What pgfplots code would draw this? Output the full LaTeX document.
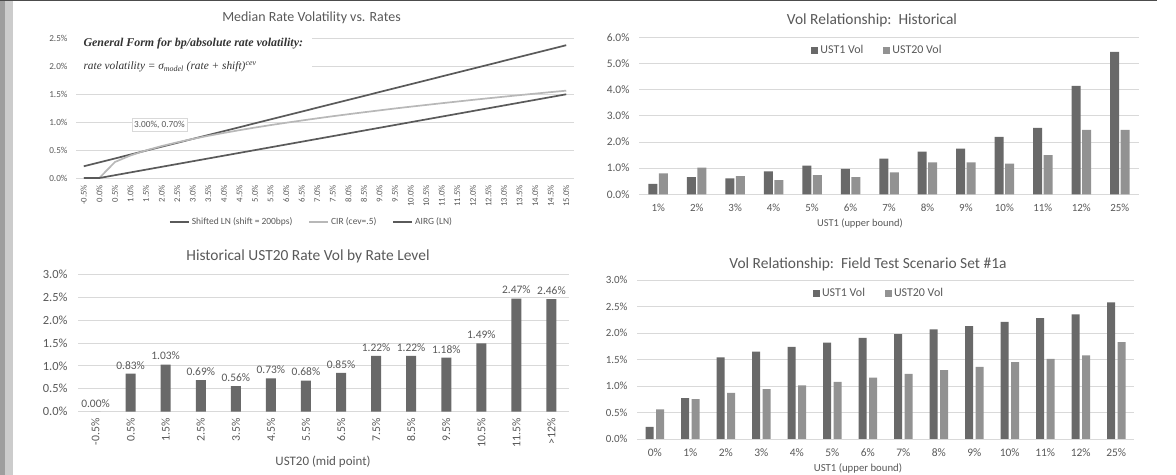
\documentclass[border=0pt]{standalone}
\usepackage{pgfplots}
\pgfplotsset{compat=1.18}
\usepackage{fontspec}
\setmainfont{Carlito}
\newfontfamily\serifit{Liberation Serif}
\definecolor{txt}{HTML}{595959}
\definecolor{gridc}{HTML}{D9D9D9}
\definecolor{darkbar}{HTML}{696969}
\definecolor{lightbar}{HTML}{929292}
\definecolor{darkline}{HTML}{5A5A5A}
\definecolor{lightline}{HTML}{B8B8B8}
\newcommand{\fs}[1]{\fontsize{#1}{#1}\selectfont}
\pgfplotsset{
  base/.style={
    scale only axis, anchor=south west,
    axis line style={draw=none},
    major tick length=0pt,
    ymajorgrids, grid style={gridc, line width=0.8bp},
    /pgf/number format/assume math mode=true,
    ticklabel style={text=txt},
    clip=false,
    legend cell align=left,
  },
  pcty/.style={yticklabel={\pgfmathprintnumber[fixed,fixed zerofill,precision=1]{\tick}\%}},
}
\begin{document}
\begin{tikzpicture}
\useasboundingbox (0,0) rectangle (1176bp,475bp);
\fill[white] (0,0) rectangle (1176bp,475bp);
\fill[black!38] (0,0) rectangle (5bp,475bp);
\fill[black!20] (5bp,0) rectangle (13bp,475bp);
\fill[black!70] (0,474bp) rectangle (1157bp,475bp);

% ---------- top left
\begin{axis}[base, pcty, at={(76bp,297bp)}, width=498bp, height=139.5bp,
  xmin=-0.75, xmax=15.25, ymin=0, ymax=2.5, ytick={0,0.5,...,2.5},
  xtick={-0.5,0,...,15},
  xticklabel={\pgfmathprintnumber[fixed,fixed zerofill,precision=1]{\tick}\%},
  x tick label style={rotate=90, anchor=east, font=\fs{8.7}, xshift=-3.5bp},
  y tick label style={font=\fs{9.2}, xshift=-5bp},
  legend columns=3,
  legend style={at={(0.473,-0.315)}, anchor=center, draw=none, fill=none, font=\fs{9.5}, text=txt,
    /tikz/every even column/.append style={column sep=14bp}},
  legend image code/.code={\draw[#1] (0bp,0bp) -- (19bp,0bp);},
]
\addplot[darkline, line width=1.7bp] coordinates {
(-0.5,0.21) (0,0.28) (0.5,0.35) (1,0.42) (1.5,0.49) (2,0.56) (2.5,0.63) (3,0.70) (3.5,0.77) (4,0.84)
(4.5,0.91) (5,0.98) (5.5,1.05) (6,1.12) (6.5,1.19) (7,1.26) (7.5,1.33) (8,1.40) (8.5,1.47) (9,1.54)
(9.5,1.61) (10,1.68) (10.5,1.75) (11,1.82) (11.5,1.89) (12,1.96) (12.5,2.03) (13,2.10) (13.5,2.17)
(14,2.24) (14.5,2.31) (15,2.38)};
\addplot[lightline, line width=1.7bp] coordinates {
(-0.5,0) (0,0) (0.5,0.286) (1,0.404) (1.5,0.495) (2,0.572) (2.5,0.639) (3,0.700) (3.5,0.756) (4,0.808)
(4.5,0.857) (5,0.904) (5.5,0.948) (6,0.990) (6.5,1.030) (7,1.069) (7.5,1.107) (8,1.143) (8.5,1.178)
(9,1.212) (9.5,1.246) (10,1.278) (10.5,1.309) (11,1.340) (11.5,1.370) (12,1.400) (12.5,1.429)
(13,1.457) (13.5,1.485) (14,1.512) (14.5,1.539) (15,1.565)};
\addplot[darkline, line width=1.7bp] coordinates {
(-0.5,0) (0,0) (0.5,0.05) (1,0.10) (1.5,0.15) (2,0.20) (2.5,0.25) (3,0.30) (3.5,0.35) (4,0.40)
(4.5,0.45) (5,0.50) (5.5,0.55) (6,0.60) (6.5,0.65) (7,0.70) (7.5,0.75) (8,0.80) (8.5,0.85) (9,0.90)
(9.5,0.95) (10,1.00) (10.5,1.05) (11,1.10) (11.5,1.15) (12,1.20) (12.5,1.25) (13,1.30) (13.5,1.35)
(14,1.40) (14.5,1.45) (15,1.50)};
\legend{Shifted LN (shift = 200bps), CIR (cev=.5), AIRG (LN)}
\node[draw=gridc, fill=white, text=txt, font=\fs{9.3}, inner sep=2.3bp] at (axis cs:1.93,0.955) {3.00\%, 0.70\%};
\end{axis}
\fill[white] (73bp,397bp) rectangle (312bp,446bp);
\node[anchor=west, text=black!80, font=\serifit\bfseries\itshape\fs{12}] at (80bp,431bp) {General Form for bp/absolute rate volatility:};
\node[anchor=west, text=black!80, font=\serifit\itshape\fs{11.4}] at (80bp,408bp) {rate volatility = σ\textsubscript{model} (rate + shift)\textsuperscript{cev}};
\node[text=txt, font=\fs{14}] at (311.5bp,457bp) {Median Rate Volatility vs. Rates};

% ---------- top right
\begin{axis}[base, pcty, at={(639bp,280.7bp)}, width=500bp, height=157bp,
  ybar=1.5bp, bar width=9bp,
  xmin=-0.5, xmax=12.5, ymin=0, ymax=6, ytick={0,1,...,6},
  xtick={0,...,12}, xticklabels={1\%,2\%,3\%,4\%,5\%,6\%,7\%,8\%,9\%,10\%,11\%,12\%,25\%},
  x tick label style={font=\fs{11}, yshift=-6.5bp},
  y tick label style={font=\fs{11.5}, xshift=-6bp},
  legend columns=2,
  legend style={at={(0.477,0.919)}, anchor=center, draw=none, fill=none, font=\fs{12}, text=txt,
    /tikz/every even column/.append style={column sep=18bp}},
  legend image code/.code={\fill[#1] (0bp,-3.5bp) rectangle (7bp,3.5bp);},
]
\addplot[fill=darkbar, draw=none] coordinates {(0,0.40) (1,0.66) (2,0.61) (3,0.88) (4,1.10) (5,0.97) (6,1.36) (7,1.63) (8,1.75) (9,2.19) (10,2.54) (11,4.14) (12,5.44)};
\addplot[fill=lightbar, draw=none] coordinates {(0,0.80) (1,1.02) (2,0.69) (3,0.54) (4,0.73) (5,0.66) (6,0.84) (7,1.22) (8,1.22) (9,1.17) (10,1.50) (11,2.46) (12,2.46)};
\legend{UST1 Vol, UST20 Vol}
\end{axis}
\node[text=txt, font=\fs{15.5}] at (872bp,455bp) {Vol Relationship:\ \ Historical};
\node[text=txt, font=\fs{10.5}] at (860bp,251bp) {UST1 (upper bound)};

% ---------- bottom left
\begin{axis}[base, pcty, at={(78bp,63.3bp)}, width=491bp, height=137.4bp,
  ybar, bar width=10bp,
  xmin=-0.5, xmax=13.5, ymin=0, ymax=3, ytick={0,0.5,...,3},
  xtick={0,...,13}, xticklabels={-0.5\%,0.5\%,1.5\%,2.5\%,3.5\%,4.5\%,5.5\%,6.5\%,7.5\%,8.5\%,9.5\%,10.5\%,11.5\%,>12\%},
  x tick label style={rotate=90, anchor=east, font=\fs{11.8}, xshift=-3bp},
  y tick label style={font=\fs{12.5}, xshift=-7bp},
  nodes near coords={\pgfmathprintnumber[fixed,fixed zerofill,precision=2]{\pgfplotspointmeta}\%},
  every node near coord/.append style={font=\fs{11.5}, text=txt, yshift=1bp},
]
\addplot[fill=darkbar, draw=none] coordinates {(0,0.00) (1,0.83) (2,1.03) (3,0.69) (4,0.56) (5,0.73) (6,0.68) (7,0.85) (8,1.22) (9,1.22) (10,1.18) (11,1.49) (12,2.47) (13,2.46)};
\end{axis}
\node[text=txt, font=\fs{15.5}] at (308bp,219bp) {Historical UST20 Rate Vol by Rate Level};
\node[text=txt, font=\fs{13}] at (323bp,13bp) {UST20 (mid point)};

% ---------- bottom right
\begin{axis}[base, pcty, at={(637bp,36bp)}, width=497bp, height=159bp,
  ybar=2.5bp, bar width=8bp,
  xmin=-0.5, xmax=13.5, ymin=0, ymax=3, ytick={0,0.5,...,3},
  xtick={0,...,13}, xticklabels={0\%,1\%,2\%,3\%,4\%,5\%,6\%,7\%,8\%,9\%,10\%,11\%,12\%,25\%},
  x tick label style={font=\fs{11.5}, yshift=-6bp},
  y tick label style={font=\fs{11}, xshift=-6bp},
  legend columns=2,
  legend style={at={(0.487,0.918)}, anchor=center, draw=none, fill=none, font=\fs{12}, text=txt,
    /tikz/every even column/.append style={column sep=18bp}},
  legend image code/.code={\fill[#1] (0bp,-3.5bp) rectangle (7bp,3.5bp);},
]
\addplot[fill=darkbar, draw=none] coordinates {(0,0.23) (1,0.77) (2,1.54) (3,1.65) (4,1.74) (5,1.82) (6,1.91) (7,1.98) (8,2.07) (9,2.13) (10,2.21) (11,2.28) (12,2.35) (13,2.58)};
\addplot[fill=lightbar, draw=none] coordinates {(0,0.56) (1,0.75) (2,0.87) (3,0.94) (4,1.01) (5,1.08) (6,1.16) (7,1.23) (8,1.30) (9,1.36) (10,1.45) (11,1.51) (12,1.58) (13,1.83)};
\legend{UST1 Vol, UST20 Vol}
\end{axis}
\node[text=txt, font=\fs{15.5}] at (868bp,211bp) {Vol Relationship:\ \ Field Test Scenario Set \#1a};
\node[text=txt, font=\fs{10.8}] at (858bp,7bp) {UST1 (upper bound)};
\end{tikzpicture}
\end{document}
